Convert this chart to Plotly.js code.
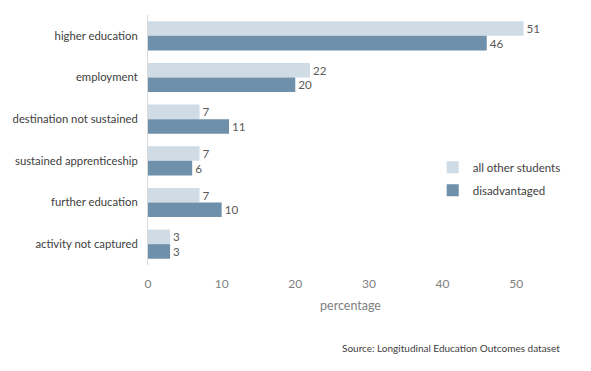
<!DOCTYPE html>
<html>
<head>
<meta charset="utf-8">
<script src="https://cdn.plot.ly/plotly-3.0.1.min.js"></script>
<style>html,body{margin:0;padding:0;background:#fff;}#chart{width:591px;height:371px;}</style>
</head>
<body>
<div id="chart"></div>
<script>
const categories = ["higher education", "employment", "destination not sustained", "sustained apprenticeship", "further education", "activity not captured"];
const allOtherStudents = [51, 22, 7, 7, 7, 3];
const disadvantaged = [46, 20, 11, 6, 10, 3];
const xTicks = [0, 10, 20, 30, 40, 50];

const FONT = "Lato, 'Open Sans', sans-serif";
const traces = [
  {
    type: "bar", orientation: "h", name: "all other students", legendgroup: "a",
    y: categories, x: allOtherStudents,
    marker: {color: "#d0dce5"},
    text: allOtherStudents.map(String), textposition: "outside",
    textfont: {family: FONT, size: 12, color: "#595959"},
    cliponaxis: false
  },
  {
    type: "bar", orientation: "h", name: "disadvantaged", legendgroup: "b",
    y: categories, x: disadvantaged,
    marker: {color: "#6e90aa"},
    text: disadvantaged.map(String), textposition: "outside",
    textfont: {family: FONT, size: 12, color: "#595959"},
    cliponaxis: false
  }
];

const layout = {
  width: 591, height: 371,
  margin: {l: 148, r: 38, t: 15, b: 106},
  paper_bgcolor: "#fff", plot_bgcolor: "#fff",
  font: {family: FONT, size: 12, color: "#404040"},
  barmode: "group", bargap: 0.3, bargroupgap: 0,
  showlegend: true,
  legend: {x: 0.703, y: 0.345, xanchor: "left", yanchor: "middle",
           traceorder: "grouped", tracegroupgap: 4,
           font: {family: FONT, size: 11.5, color: "#404040"}, itemwidth: 30,
           bgcolor: "rgba(0,0,0,0)"},
  xaxis: {
    range: [0, 55], tickvals: xTicks, ticktext: xTicks.map(String),
    showgrid: false, zeroline: false, showline: false, ticks: "",
    ticklabelstandoff: 10,
    tickfont: {family: FONT, size: 12, color: "#7f7f7f"},
    title: {text: "percentage", font: {family: FONT, size: 12.5, color: "#7f7f7f"}, standoff: 11},
    fixedrange: true
  },
  yaxis: {
    categoryorder: "array", categoryarray: categories, autorange: "reversed",
    showgrid: false, zeroline: false, showline: true, linecolor: "#d9d9d9", linewidth: 1,
    ticks: "", ticklabelstandoff: 7,
    tickfont: {family: FONT, size: 11.3, color: "#404040"},
    fixedrange: true
  },
  annotations: [{
    text: "Source: Longitudinal Education Outcomes dataset",
    xref: "paper", yref: "paper", x: 1.022, y: -0.33, xanchor: "right", yanchor: "middle",
    showarrow: false, font: {family: FONT, size: 10, color: "#404040"}
  }]
};

Plotly.newPlot("chart", traces, layout, {displayModeBar: false, staticPlot: true});
</script>
</body>
</html>
